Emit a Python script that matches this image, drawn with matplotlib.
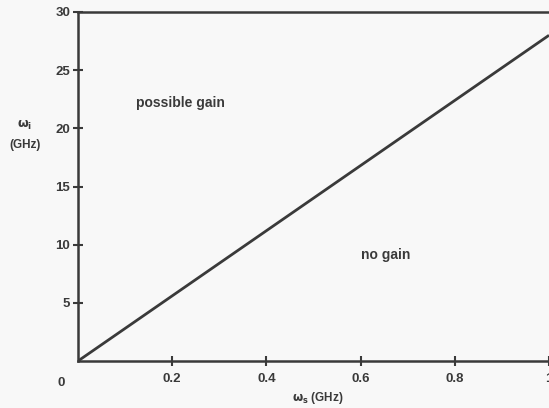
import matplotlib.pyplot as plt

# boundary line between the two regions
omega_s = [0.0, 1.0]
omega_i = [0.0, 28.0]

x_ticks = [0.2, 0.4, 0.6, 0.8, 1.0]
x_labels = ['0.2', '0.4', '0.6', '0.8', '1']
y_ticks = [5, 10, 15, 20, 25, 30]
y_labels = ['5', '10', '15', '20', '25', '30']

plt.rcParams['font.family'] = ['Liberation Sans', 'DejaVu Sans']
plt.rcParams['font.weight'] = 'bold'
ink = '#3a3a3a'

fig = plt.figure(figsize=(5.49, 4.08), dpi=100, facecolor='#f8f8f8')
ax = fig.add_axes([78 / 549, 1 - 361 / 408, 471 / 549, 349 / 408])
ax.set_facecolor('#f8f8f8')

ax.plot(omega_s, omega_i, color=ink, lw=2.0, solid_capstyle='butt')

ax.set_xlim(0, 1)
ax.set_ylim(0, 30)
ax.set_xticks(x_ticks)
ax.set_xticklabels(x_labels)
ax.set_yticks(y_ticks)
ax.set_yticklabels(y_labels)
ax.tick_params(direction='inout', length=7, width=1.5, color=ink,
               labelcolor=ink, labelsize=9.5, pad=5)
ax.tick_params(axis='y', pad=2)

for side in ['left', 'bottom', 'top']:
    ax.spines[side].set_linewidth(1.8)
    ax.spines[side].set_color(ink)
ax.spines['right'].set_visible(False)

# the "0" sits below-left of the corner
ax.text(-0.035, -0.062, '0', transform=ax.transAxes, ha='center', va='center',
        fontsize=9.5, color=ink, fontweight='bold')

ax.text(0.124, 22.2, 'possible gain', fontsize=10, color=ink, va='center')
ax.text(0.60, 9.1, 'no gain', fontsize=10, color=ink, va='center')

fig.text(25 / 549, 1 - 125 / 408, r'$\mathrm{\omega_i}$', ha='center', va='center',
         fontsize=9, color=ink)
fig.text(25 / 549, 1 - 145 / 408, '(GHz)', ha='center', va='center',
         fontsize=8.5, color=ink)
fig.text(318 / 549, 1 - 398 / 408, r'$\mathrm{\omega_s}$ (GHz)', ha='center', va='center',
         fontsize=8.5, color=ink)

fig.savefig('out.png', dpi=100, facecolor=fig.get_facecolor())
